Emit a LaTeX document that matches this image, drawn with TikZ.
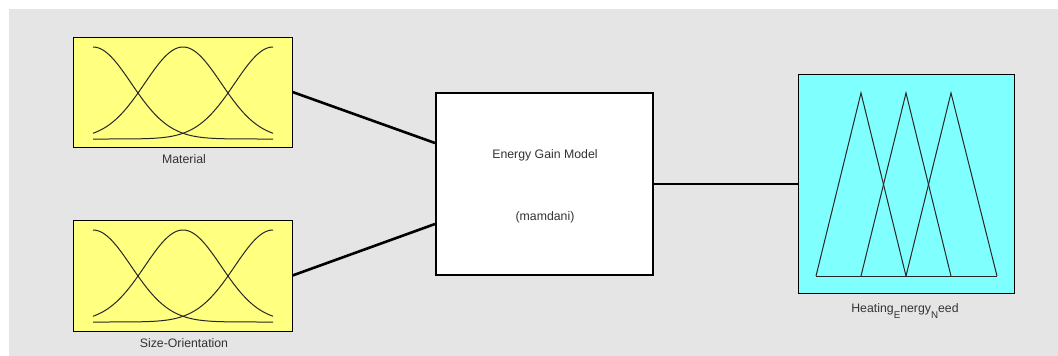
\documentclass[tikz,border=0pt]{standalone}
\usepackage{fontspec}
\setmainfont{Liberation Sans}
\definecolor{panelgray}{HTML}{E5E5E5}
\definecolor{inyellow}{HTML}{FFFF80}
\definecolor{outcyan}{HTML}{80FFFF}
\definecolor{txtgray}{HTML}{333333}

\tikzset{
  varbox/.style={draw=black, line width=1pt, minimum width=219pt, minimum height=110pt, inner sep=0pt},
  modelbox/.style={draw=black, fill=white, line width=2pt, minimum width=217pt, minimum height=182pt, inner sep=0pt},
  varname/.style={text=txtgray, font=\fontsize{12.3}{14}\selectfont, inner sep=0pt},
  wire/.style={line width=2.6pt, black},
  mf/.style={line width=1pt, black!85}
}
% lowered letter for the output name
\newcommand{\lowsub}[1]{\raisebox{-6pt}{\fontsize{9.8}{10}\selectfont #1}}

\begin{document}
\begin{tikzpicture}[x=1pt,y=-1pt]
            \useasboundingbox (0,0) rectangle (1058,356);
            \fill[panelgray] (9,9) rectangle (1058,356);
            % input variables
            \node[varbox, fill=inyellow] (material) at (182.5,92) {};
            \node[varbox, fill=inyellow, minimum height=111pt] (sizeor) at (182.5,275.5) {};
            \node[varname] (materiallabel) at (184,159) {Material};
            \node[varname] (sizeorlabel) at (184,343) {Size-Orientation};
            % gaussian membership functions
            \foreach \yb in {139,322} {
                \foreach \c in {93,183,273} {
                    \draw[mf] plot[domain=93:273, samples=80, smooth]
                        (\x, {\yb-92*exp(-0.5*((\x-\c)/38.2)^2)});
                }
            }
            % rule block
            \node[modelbox] (model) at (544.5,184) {};
            \node[varname] (modelname) at (545,155) {Energy Gain Model};
            \node[varname] (modeltype) at (545,217) {(mamdani)};
            % output variable
            \node[varbox, fill=outcyan, minimum width=216pt, minimum height=219pt] (output) at (906,184) {};
            \node[varname, anchor=base] (outputlabel) at (905,312) {Heating\lowsub{E}nergy\lowsub{N}eed};
            \draw[mf] (816,276) -- (997,276);
            \foreach \a/\b/\c in {816/861/906, 861/906/951, 906/951/997} {
                \draw[mf] (\a,276) -- (\b,93) -- (\c,276);
            }
            % connections
            \draw[wire] (material.east) -- ([yshift=41pt]model.west);
            \draw[wire] (sizeor.east) -- ([yshift=-40pt]model.west);
            \draw[wire] (model.east) -- (output.west);
        \end{tikzpicture}
\end{document}
